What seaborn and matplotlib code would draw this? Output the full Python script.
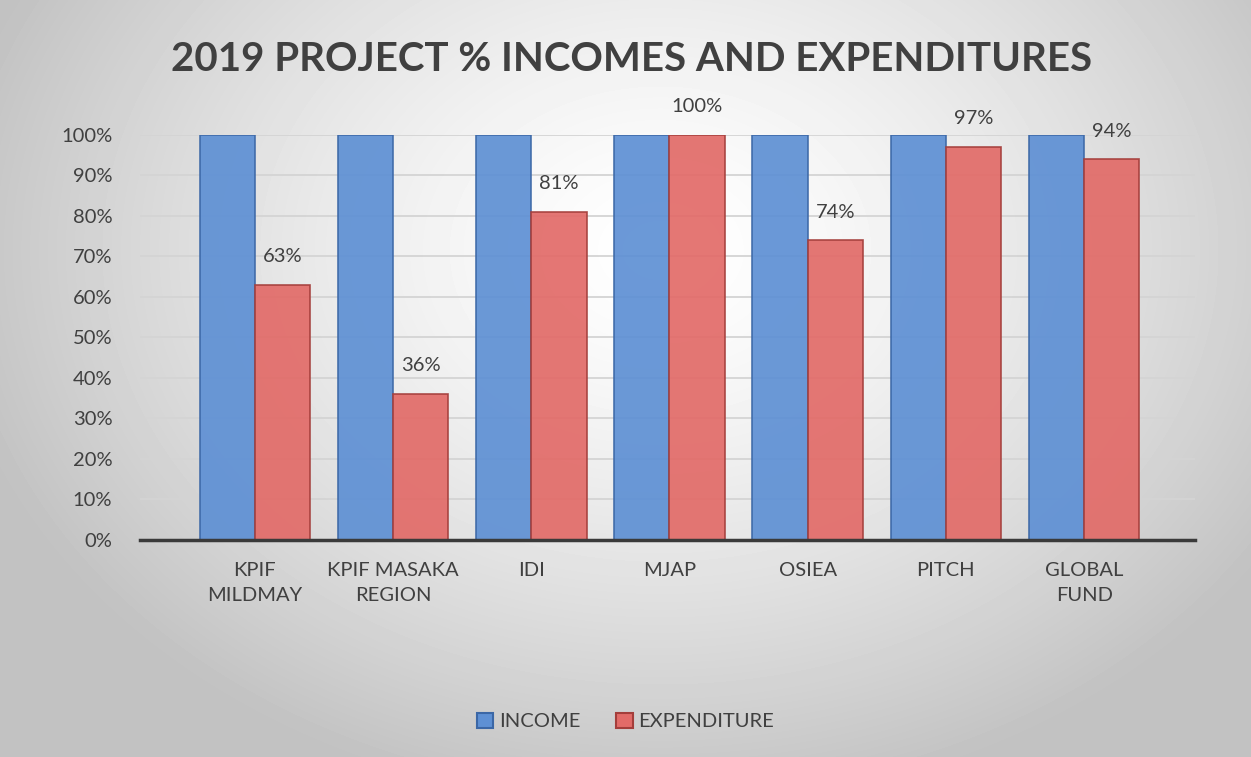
import numpy as np
import pandas as pd
import matplotlib
matplotlib.use("Agg")
import matplotlib.pyplot as plt
import seaborn as sns

projects = ["KPIF\nMILDMAY", "KPIF MASAKA\nREGION", "IDI", "MJAP", "OSIEA", "PITCH", "GLOBAL\nFUND"]
income = [100, 100, 100, 100, 100, 100, 100]
expenditure = [63, 36, 81, 100, 74, 97, 94]
series = ["INCOME", "EXPENDITURE"]

df = pd.DataFrame({
    "project": projects * 2,
    "pct": income + expenditure,
    "series": [series[0]] * len(projects) + [series[1]] * len(projects),
})

sns.set_theme(style="white")
plt.rcParams["font.family"] = ["Lato", "DejaVu Sans"]
txt = "#404040"
blue, red = "#5E90D4", "#E26B68"

fig = plt.figure(figsize=(12.51, 7.57), dpi=100)

# soft radial background like the Excel chart area
bg = fig.add_axes([0, 0, 1, 1], zorder=-10)
yy, xx = np.mgrid[0:757, 0:1251]
r = np.sqrt(((xx - 660) / 720.0) ** 2 + ((yy - 250) / 560.0) ** 2)
g = np.clip(1.0 - 0.24 * r ** 1.4, 0.76, 1.0)
bg.imshow(g, cmap="gray", vmin=0, vmax=1, aspect="auto", interpolation="bilinear")
bg.axis("off")

ax = fig.add_axes([0.112, 0.287, 0.843, 0.535])
ax.set_facecolor("none")
sns.barplot(data=df, x="project", y="pct", hue="series", palette=[blue, red],
            width=0.8, saturation=1, ax=ax, legend=False)
for bars, ec in zip(ax.containers, ["#3B67A6", "#A43E3B"]):
    for b in bars:
        b.set_edgecolor(ec)
        b.set_linewidth(1.2)
        b.set_alpha(0.92)

ax.bar_label(ax.containers[1], labels=[f"{v}%" for v in expenditure], padding=14,
             fontsize=14.5, color=txt, clip_on=False)

ax.set_xlim(-0.83, 6.8)
ax.set_ylim(0, 100)
ax.set_yticks(range(0, 101, 10))
ax.set_yticklabels([f"{v}%" for v in range(0, 101, 10)])
ax.yaxis.grid(True, color="#D4D4D4", linewidth=1.3)
ax.set_axisbelow(True)
for s in ["top", "right", "left"]:
    ax.spines[s].set_visible(False)
ax.spines["bottom"].set_color("#3A3A3A")
ax.spines["bottom"].set_linewidth(2.5)
ax.tick_params(axis="y", length=0, pad=20, labelsize=14.5, labelcolor=txt)
ax.tick_params(axis="x", length=0, pad=16, labelsize=14.5, labelcolor=txt)
for lbl in ax.get_xticklabels():
    lbl.set_linespacing(1.6)
ax.set_xlabel("")
ax.set_ylabel("")

fig.text(0.505, 0.922, "2019 PROJECT % INCOMES AND EXPENDITURES", ha="center", va="center",
         fontsize=29, fontweight="bold", color=txt)

handles = [plt.Rectangle((0, 0), 1, 1, facecolor=blue, edgecolor="#3B67A6", linewidth=1.5),
           plt.Rectangle((0, 0), 1, 1, facecolor=red, edgecolor="#A43E3B", linewidth=1.5)]
fig.legend(handles, series, loc="center", bbox_to_anchor=(0.5, 0.047), ncol=2, frameon=False,
           fontsize=14.5, labelcolor=txt, handlelength=0.8, handleheight=0.8,
           handletextpad=0.3, columnspacing=1.8)

fig.savefig("out.png", dpi=100)
